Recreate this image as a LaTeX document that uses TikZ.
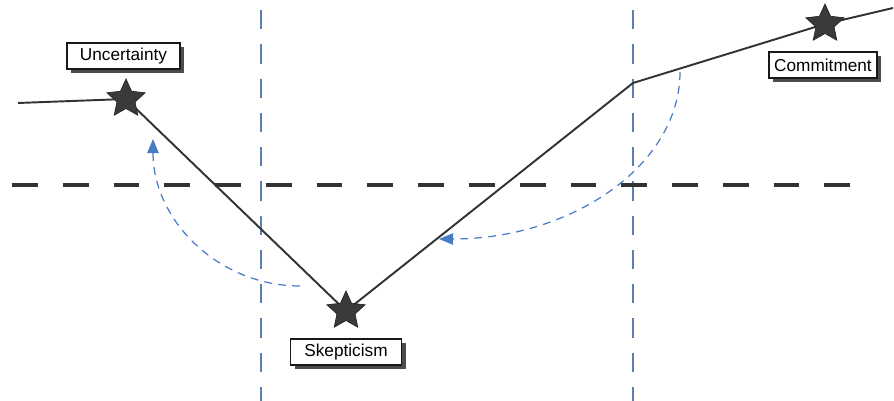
\documentclass[tikz,border=0pt]{standalone}
\usepackage{fontspec}
\setmainfont{Liberation Sans}
\usetikzlibrary{shapes.geometric,shadows,arrows.meta}

\definecolor{starfill}{HTML}{3A3A3A}
\definecolor{guideblue}{HTML}{5B7FB0}
\definecolor{arcblue}{HTML}{4A7CC4}

\tikzset{
  stage/.style={star,star points=5,star point ratio=2.1,minimum size=0.8cm,
    inner sep=0pt,fill=starfill,draw=black!85},
  stagebox/.style={draw=black!90,line width=0.8pt,fill=white,minimum height=0.52cm,
    inner sep=0pt,font=\fontsize{9.8}{11}\selectfont,
    drop shadow={shadow xshift=2.3pt,shadow yshift=-2.3pt,fill=black!70,opacity=1}},
  guide/.style={guideblue,line width=0.8pt,dash pattern=on 11pt off 8.5pt},
  loopback/.style={arcblue,line width=0.7pt,dash pattern=on 4.5pt off 3.5pt,
    -{Triangle[length=8pt,width=6.5pt]}}
}

\begin{document}
\begin{tikzpicture}[x=0.02cm,y=-0.02cm]
  \useasboundingbox (0,0) rectangle (894,401);
  % vertical guides
  \draw[guide] (261,10) -- (261,401);
  \draw[guide] (633,10) -- (633,401);
  % horizontal threshold
  \draw[black!80,line width=2.3pt,dash pattern=on 14.7pt off 14.2pt] (12,185) -- (852,185);
  % path points
  \coordinate (start) at (18,103);
  \coordinate (p1) at (126,99);
  \coordinate (p2) at (346,311);
  \coordinate (kink) at (633,83);
  \coordinate (p3) at (825,24);
  \coordinate (finish) at (893,8);
  \draw[black!80,line width=1.1pt] (start) -- (p1) -- (p2) -- (kink) -- (p3) -- (finish);
  % stars
  \node[stage] (unc) at (p1) {};
  \node[stage] (skep) at (p2) {};
  \node[stage] (comm) at (p3) {};
  % labels
  \node[stagebox,minimum width=2.26cm] (uncl) at (123.5,56) {Uncertainty};
  \node[stagebox,minimum width=2.22cm] (skepl) at (346,352) {Skepticism};
  \node[stagebox,minimum width=2.16cm] (comml) at (823,65) {Commitment};
  % feedback arcs
  \coordinate (a1) at (300,286);
  \coordinate (a1e) at (153,139);
  \draw[loopback] (a1) .. controls (219,286) and (153,221) .. (a1e);
  \coordinate (a2) at (680,72);
  \coordinate (a2e) at (439,239);
  \draw[loopback] (a2) .. controls (680,165) and (572,239) .. (a2e);
\end{tikzpicture}
\end{document}
